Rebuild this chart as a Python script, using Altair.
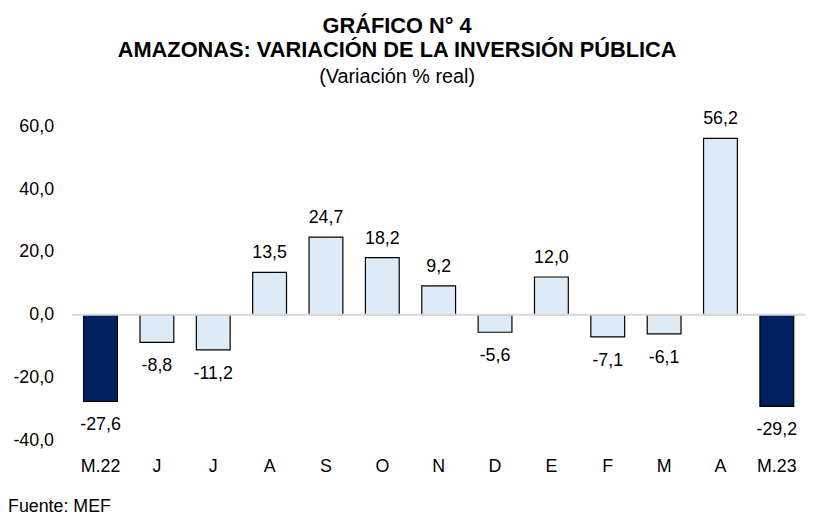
import altair as alt
import pandas as pd

categories = ["M.22", "J", "J", "A", "S", "O", "N", "D", "E", "F", "M", "A", "M.23"]
values = [-27.6, -8.8, -11.2, 13.5, 24.7, 18.2, 9.2, -5.6, 12.0, -7.1, -6.1, 56.2, -29.2]
highlight = [True, False, False, False, False, False, False, False, False, False, False, False, True]
y_ticks = [-40, -20, 0, 20, 40, 60]

FONT = "Liberation Sans"

df = pd.DataFrame({
    "idx": list(range(len(categories))),
    "cat": categories,
    "val": values,
    "hl": highlight,
})
df["label"] = [f"{v:.1f}".replace(".", ",") for v in values]

label_expr = "[" + ",".join(f"'{c}'" for c in categories) + "][datum.value]"

x = alt.X("idx:O", sort=None, title=None,
          scale=alt.Scale(paddingInner=0.4, paddingOuter=0.2),
          axis=alt.Axis(labelExpr=label_expr, labelAngle=0, ticks=False, domain=False,
                        labelPadding=18, labelFont=FONT, labelFontSize=18,
                        labelColor="#000000", grid=False))
y = alt.Y("val:Q", title=None,
          scale=alt.Scale(domain=[-40, 60], nice=False, zero=False),
          axis=alt.Axis(values=y_ticks, grid=False, ticks=False, domain=False,
                        labelPadding=19, labelFont=FONT, labelFontSize=18,
                        labelColor="#000000",
                        labelExpr="(datum.value < 0 ? '-' : '') + replace(format(abs(datum.value), '.1f'), '.', ',')"))

bars = alt.Chart(df).mark_bar(stroke="#000000", strokeWidth=1.2).encode(
    x=x, y=y,
    color=alt.Color("hl:N", scale=alt.Scale(domain=[True, False], range=["#002060", "#DDEBF7"]), legend=None),
)

zero = alt.Chart(pd.DataFrame({"z": [0]})).mark_rule(color="#d9d9d9", strokeWidth=2).encode(
    y=alt.Y("z:Q")
)

pos_lbl = alt.Chart(df).transform_filter("datum.val >= 0").mark_text(
    font=FONT, fontSize=18, baseline="middle", dy=-19, color="#000000"
).encode(x=alt.X("idx:O", sort=None), y=alt.Y("val:Q"), text="label:N")

neg_lbl = alt.Chart(df).transform_filter("datum.val < 0").mark_text(
    font=FONT, fontSize=18, baseline="middle", dy=24, color="#000000"
).encode(x=alt.X("idx:O", sort=None), y=alt.Y("val:Q"), text="label:N")

source = alt.Chart(pd.DataFrame({"t": ["Fuente: MEF"]})).mark_text(
    font=FONT, fontSize=18, align="left", baseline="middle", color="#000000"
).encode(x=alt.value(-65), y=alt.value(385), text="t:N")

chart = alt.layer(bars, zero, pos_lbl, neg_lbl, source).properties(
    width=740,
    height=317,
    autosize=alt.AutoSizeParams(type="none"),
    padding={"left": 65, "top": 117, "right": 0, "bottom": 75},
    title=alt.TitleParams(
        text=["GRÁFICO N° 4", "AMAZONAS: VARIACIÓN DE LA INVERSIÓN PÚBLICA"],
        subtitle="(Variación % real)",
        anchor="middle",
        dx=-42,
        offset=23,
        font=FONT, fontSize=22, fontWeight="bold", color="#000000", lineHeight=24,
        subtitleFont=FONT, subtitleFontSize=20, subtitleColor="#000000", subtitlePadding=5,
    ),
).configure_view(stroke=None)

chart.save("out.html", embed_options={"renderer": "svg", "actions": False})
